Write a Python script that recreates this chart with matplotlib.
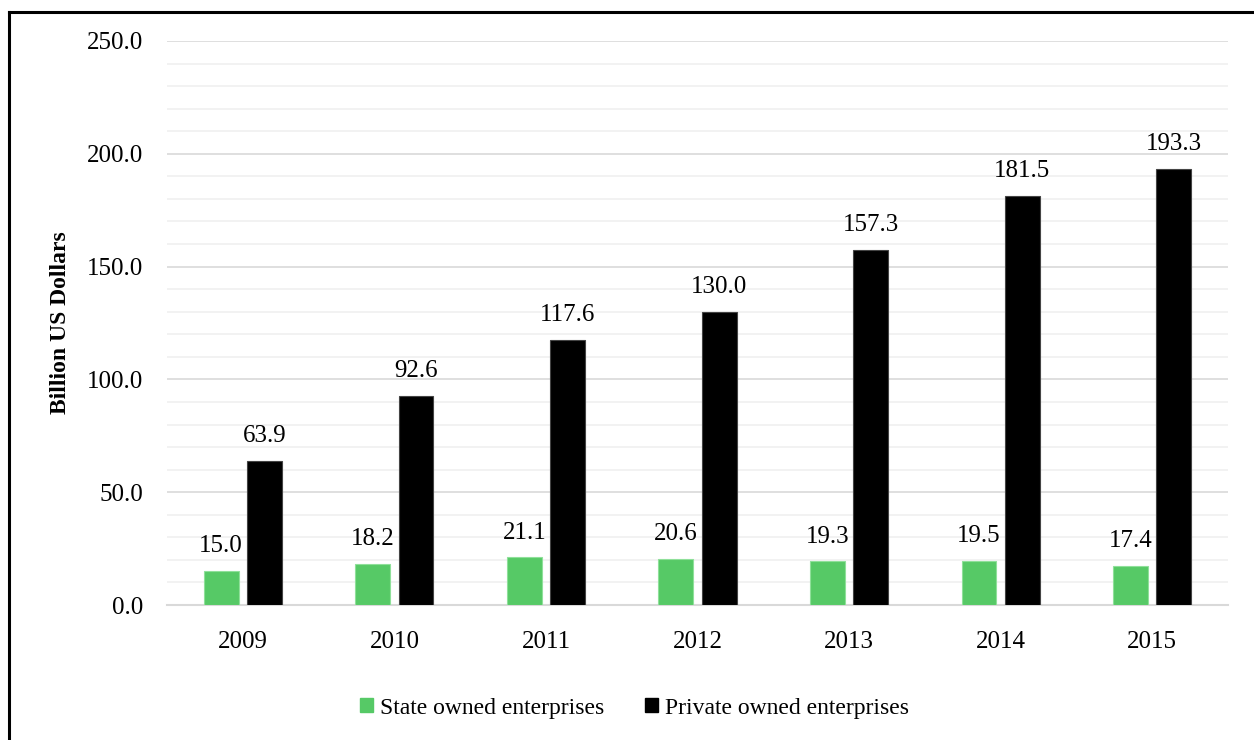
import numpy as np
import matplotlib
matplotlib.use("Agg")
import matplotlib.pyplot as plt
from matplotlib.lines import Line2D

years = ["2009", "2010", "2011", "2012", "2013", "2014", "2015"]
state_owned = [15.0, 18.2, 21.1, 20.6, 19.3, 19.5, 17.4]
private_owned = [63.9, 92.6, 117.6, 130.0, 157.3, 181.5, 193.3]
series_names = ["State owned enterprises", "Private owned enterprises"]
y_ticks = [0, 50, 100, 150, 200, 250]

plt.rcParams['font.family'] = ['Liberation Serif', 'DejaVu Serif']

fig = plt.figure(figsize=(12.54, 7.4), dpi=100)
ax = fig.add_axes([0.1332, 0.1824, 0.8461, 0.7622])

x = np.arange(len(years))
width = 0.23
off = 0.143
green = "#56C966"
b1 = ax.bar(x - off, state_owned, width, color=green, edgecolor="#8fe09a", linewidth=0.8, zorder=3)
b2 = ax.bar(x + off, private_owned, width, color="black", edgecolor="#444444", linewidth=0.8, zorder=3)

for bars, vals in ((b1, state_owned), (b2, private_owned)):
    for r, v in zip(bars, vals):
        ax.annotate(f"{v:.1f}", (r.get_x() + r.get_width() / 2, v),
                    xytext=(0, 10), textcoords="offset points",
                    ha="center", va="bottom", fontsize=18)

ax.set_xlim(-0.5, len(years) - 0.5)
ax.set_ylim(0, 250)
ax.set_yticks(y_ticks)
ax.set_yticklabels([f"{t:.1f}" for t in y_ticks])
ax.set_yticks(np.arange(0, 251, 10), minor=True)
ax.set_xticks(x)
ax.set_xticklabels(years)
ax.tick_params(axis="both", which="both", length=0, labelsize=18)
ax.tick_params(axis="x", pad=19)
ax.tick_params(axis="y", pad=17)
ax.grid(axis="y", which="minor", color="#f0f0f0", linewidth=1.2, zorder=0)
ax.grid(axis="y", which="major", color="#d9d9d9", linewidth=1.2, zorder=1)
for s in ("top", "right", "left"):
    ax.spines[s].set_visible(False)
ax.spines["bottom"].set_color("#d9d9d9")
ax.spines["bottom"].set_linewidth(1.5)

ax.set_ylabel("Billion US Dollars", fontsize=17, fontweight="bold", labelpad=12)

handles = [plt.Rectangle((0, 0), 1, 1, color=green), plt.Rectangle((0, 0), 1, 1, color="black")]
fig.legend(handles, series_names, loc="center", bbox_to_anchor=(0.506, 0.043), ncol=2,
           frameon=False, fontsize=17, handlelength=0.55, handleheight=0.55,
           handletextpad=0.3, columnspacing=1.7)

# outer frame (clipped at right and bottom in the original)
fig.add_artist(Line2D([9 / 1254, 9 / 1254], [0, 1 - 12 / 740], color="black", linewidth=2.2))
fig.add_artist(Line2D([9 / 1254, 1], [1 - 12 / 740, 1 - 12 / 740], color="black", linewidth=2.2))

fig.savefig("out.png", dpi=100)
